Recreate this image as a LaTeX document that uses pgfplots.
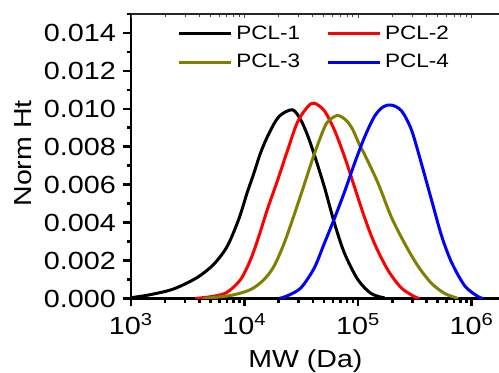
\documentclass[border=0pt]{standalone}
\usepackage{pgfplots}
\pgfplotsset{compat=1.18}
\usepackage{fontspec}
\setmainfont{Liberation Sans}[FakeStretch=1.16]
\definecolor{olivec}{RGB}{128,128,0}
\begin{document}
\begin{tikzpicture}
\begin{axis}[
  width=184pt, height=142.25pt, scale only axis,
  xmode=log, xmin=1000, xmax=1.74e6,
  ymin=0, ymax=0.015,
  axis x line*=bottom, axis y line*=left,
  x axis line style={-, line width=1.3pt},
  y axis line style={-, line width=1.3pt},
  xtick={1e3,1e4,1e5,1e6},
  xticklabels={10\textsuperscript{3},10\textsuperscript{4},10\textsuperscript{5},10\textsuperscript{6}},
  minor xtick={2e3,3e3,4e3,5e3,6e3,7e3,8e3,9e3,2e4,3e4,4e4,5e4,6e4,7e4,8e4,9e4,2e5,3e5,4e5,5e5,6e5,7e5,8e5,9e5},
  ytick={0,0.002,0.004,0.006,0.008,0.010,0.012,0.014},
  minor ytick={0.001,0.003,0.005,0.007,0.009,0.011,0.013,0.015},
  yticklabel style={/pgf/number format/.cd, fixed, fixed zerofill, precision=3, assume math mode=true},
  scaled y ticks=false,
  tick align=outside,
  major tick length=4pt, minor tick length=2.2pt,
  every tick/.style={line width=1.3pt, black},
  xtick pos=bottom, ytick pos=left,
  tick label style={font=\fontsize{12.4}{14}\selectfont},
  xlabel={MW (Da)},
  ylabel={Norm Ht},
  every axis x label/.style={at={(axis description cs:0.474,-0.2443)}, anchor=base, font=\fontsize{12.3}{14}\selectfont},
  every axis y label/.style={at={(axis description cs:-0.2935,0.51)}, rotate=90, anchor=center, font=\fontsize{12.3}{14}\selectfont},
  legend columns=2,
  legend cell align=left,
  legend style={draw=none, fill=none, at={(rel axis cs:0.125,0.975)}, anchor=north west,
    font=\fontsize{9.7}{11}\selectfont, inner sep=0pt, row sep=2.2pt,
    /tikz/every even column/.append style={column sep=11pt}},
  legend image code/.code={\draw[#1, line width=1.5pt] (0pt,0pt) -- (26pt,0pt);},
]
\addplot[black, line width=1.5pt, smooth] coordinates {
(1000,0.00004) (1472,0.0002) (2366,0.0005) (3811,0.0011) (5346,0.0018) (7031,0.00275)
(8913,0.0042) (10570,0.0056) (12080,0.0066) (13870,0.0077) (16400,0.0087) (20140,0.0096)
(26420,0.00995) (31330,0.0094) (35890,0.0086) (41020,0.0076) (50350,0.0059) (61660,0.0040)
(75680,0.0024) (99310,0.0010) (130300,0.00026) (171000,0.00003)
};
\addlegendentry{PCL-1}
\addplot[red, line width=1.5pt, smooth] coordinates {
(3681,0) (5346,0.00012) (7031,0.00033) (9226,0.0010) (11300,0.00205) (13400,0.0033)
(15890,0.0047) (19450,0.0062) (23880,0.0078) (29240,0.0093) (35890,0.0101) (41020,0.0103)
(50350,0.0099) (61660,0.0089) (75680,0.0075) (92680,0.0059) (113500,0.0043) (139300,0.0029)
(182800,0.0015) (239900,0.00056) (314800,0.00009) (348300,0)
};
\addlegendentry{PCL-2}
\addplot[olivec, line width=1.5pt, smooth] coordinates {
(4335,0) (7516,0.00016) (11300,0.00047) (14830,0.0010) (18160,0.0017) (22280,0.0029)
(27290,0.0044) (33500,0.0060) (41020,0.0076) (50350,0.0090) (55720,0.0094) (66070,0.00965)
(78340,0.0094) (89770,0.0089) (102800,0.0081) (113800,0.0076) (149300,0.0061) (195900,0.0043)
(257000,0.0029) (337300,0.0017) (442600,0.0008) (580800,0.00026) (762100,0)
};
\addlegendentry{PCL-3}
\addplot[blue, line width=1.5pt, smooth] coordinates {
(20140,0) (24000,0.00015) (31330,0.00056) (41020,0.0016) (50350,0.0029) (61660,0.0042)
(75680,0.0056) (92680,0.0071) (113800,0.0085) (139300,0.0096) (165600,0.0101) (195900,0.0102)
(240400,0.0099) (294400,0.0089) (361400,0.0071) (442600,0.0052) (543300,0.0033) (665300,0.0019)
(873000,0.00065) (1146000,0.00009) (1271000,0)
};
\addlegendentry{PCL-4}
\coordinate (SW) at (rel axis cs:0,0);
\coordinate (NE) at (rel axis cs:1,1);
\end{axis}
\begin{axis}[
  width=184pt, height=142.25pt, scale only axis,
  xmode=log, xmin=1000, xmax=1.74e6,
  ymin=0, ymax=0.015,
  axis x line*=top, axis y line=none,
  x axis line style={-, line width=0.6pt, black!85},
  xtick={1e3,1e4,1e5,1e6}, xticklabels={},
  minor xtick={2e3,3e3,4e3,5e3,6e3,7e3,8e3,9e3,2e4,3e4,4e4,5e4,6e4,7e4,8e4,9e4,2e5,3e5,4e5,5e5,6e5,7e5,8e5,9e5},
  ytick=\empty,
  tick align=inside,
  major tick length=2.2pt, minor tick length=1.6pt,
  every tick/.style={line width=0.5pt, black!70},
  xtick pos=top,
]
\end{axis}
\pgfresetboundingbox
\path ([xshift=-65.5pt,yshift=-37.25pt]SW) rectangle ([yshift=7pt]NE);
\end{tikzpicture}
\end{document}
